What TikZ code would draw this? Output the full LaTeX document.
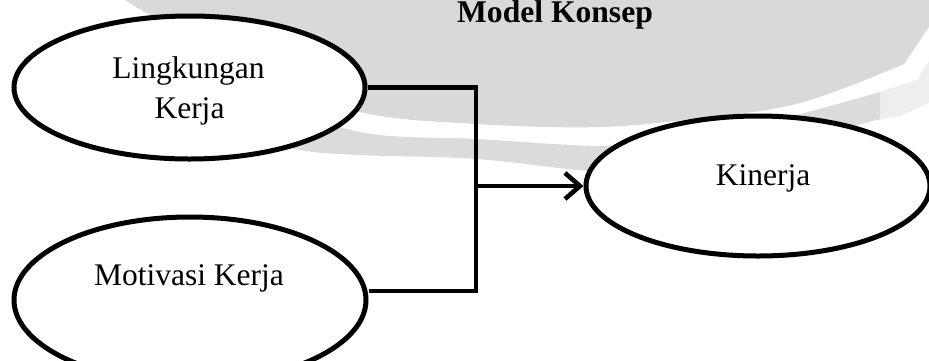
\documentclass[tikz,border=0pt]{standalone}
\usepackage{fontspec}
\setmainfont{Liberation Serif}
\usetikzlibrary{shapes.geometric,arrows.meta}
\definecolor{wmgrey}{HTML}{D9D9D9}
\definecolor{wmband}{HTML}{DBDBDB}
\definecolor{wmfaint}{HTML}{EEEEEE}
\begin{document}
\begin{tikzpicture}[x=1pt,y=-1pt,
  ellbox/.style={ellipse,draw=black,line width=5pt,fill=white,inner sep=0pt},
  lbl/.style={anchor=base,inner sep=0pt,font=\fontsize{31.5}{40}\selectfont},
  conn/.style={line width=4.6pt,draw=black}]
\useasboundingbox (0,0) rectangle (929,360);
\clip (0,0) rectangle (929,360);

% grey background emblem
\fill[wmgrey] plot[smooth,tension=0.6] coordinates
  {(122,-2) (150,15) (250,72) (360,112) (477,124) (600,127) (700,118) (800,103) (904,64)}
  -- (935,18) -- (935,-5) -- (122,-5) -- cycle;
% faint outer edge of the band on the right
\fill[wmfaint] (870,95) -- (917,80) -- (935,52) -- (935,100) -- (900,116) -- (870,121) -- cycle;
\fill[wmband] plot[smooth,tension=0.6] coordinates
  {(250,95) (360,132) (477,139) (610,146) (700,137) (800,114) (880,92)}
  -- (880,119) --
  plot[smooth,tension=0.6] coordinates
  {(880,119) (800,140) (700,162) (610,172) (477,159) (360,155) (300,150) (250,135)}
  -- cycle;

% ellipses
\node[ellbox,minimum width=351pt,minimum height=143pt] (lk) at (189.5,87.5) {};
\node[ellbox,minimum width=352pt,minimum height=166pt] (mv) at (190,300) {};
\node[ellbox,minimum width=344pt,minimum height=140pt] (kn) at (758,186) {};

% labels
\node[lbl,font=\fontsize{31.6}{38}\selectfont\bfseries] (title) at (555,22) {Model Konsep};
\node[lbl] (lk1) at (188.5,78) {Lingkungan};
\node[lbl] (lk2) at (189.5,118) {Kerja};
\node[lbl] (mvt) at (189,285) {Motivasi Kerja};
\node[lbl] (knt) at (763,185) {Kinerja};

% connectors
\coordinate (bus) at (476,186);
\draw[conn] (lk.east) -| (bus);
\draw[conn] ([yshift=9pt]mv.east) -| (bus);
\draw[conn,-{Straight Barb[length=15pt,width=26pt]}] (bus) -- (kn.west);
\end{tikzpicture}
\end{document}
